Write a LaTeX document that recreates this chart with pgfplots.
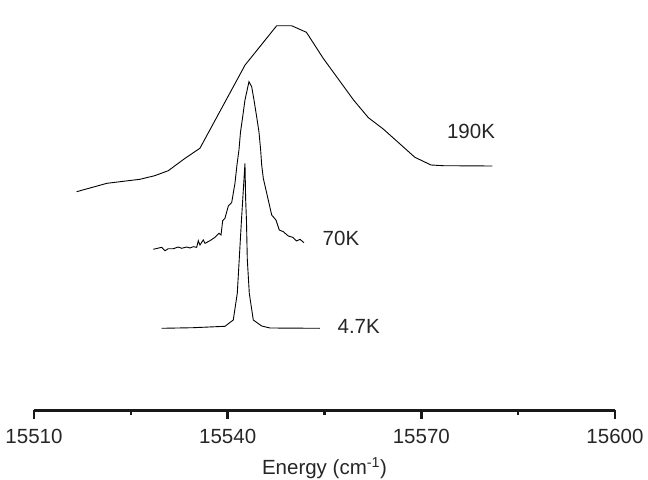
\documentclass[border=0pt]{standalone}
\usepackage{fontspec}
\setmainfont{Liberation Sans}
\usepackage{pgfplots}
\pgfplotsset{compat=1.18}

\begin{document}
\fontsize{20.5bp}{24bp}\selectfont
\begin{tikzpicture}
\begin{axis}[
    at={(0,0)}, anchor=south west,
    scale only axis,
    width=581bp, height=410bp,
    xmin=15510, xmax=15600,
    ymin=-2, ymax=408,
    axis x line=bottom,
    axis y line=none,
    axis line style={-, line width=3bp, black!90},
    xtick={15510,15540,15570,15600},
    xticklabels={15510,15540,15570,15600},
    scaled x ticks=false,
    minor xtick={15525,15555,15585},
    tick align=outside,
    major tick length=9bp,
    minor tick length=5bp,
    tick style={line width=2.6bp, black!90},
    x tick label style={font=\fontsize{20.5bp}{24bp}\selectfont, text=black!85, yshift=-3bp},
    xlabel={Energy (cm\textsuperscript{-1})},
    xlabel style={font=\fontsize{20.5bp}{24bp}\selectfont, text=black!85},
    clip=false,
]

% 190K
\addplot[black, line width=0.9bp] coordinates {
    (15516.6,216.3) (15521.3,224.7) (15526.4,228.7) (15528.7,232.3)
    (15530.8,237.3) (15533.4,249.7) (15535.7,259.7) (15542.7,343.0)
    (15547.6,382.3) (15549.9,382.3) (15552.2,375.7) (15554.8,349.7)
    (15559.5,308.0) (15561.8,290.3) (15564.1,279.0) (15569.0,250.7)
    (15571.5,243.0) (15573.4,242.3) (15581.0,242.0)
};

% 70K
\addplot[black, line width=0.9bp] coordinates {
    (15528.48,158.7) (15529.78,160.7) (15530.29,157.3) (15530.80,159.3)
    (15531.58,159.3) (15532.35,161.0) (15532.88,159.7) (15533.65,161.0)
    (15534.16,160.0) (15534.67,161.3) (15535.20,160.7) (15535.45,167.3)
    (15535.71,163.0) (15536.22,168.0) (15536.49,164.7) (15537.26,167.3)
    (15538.04,170.7) (15538.66,174.7) (15538.97,173.0) (15539.23,187.3)
    (15539.58,189.7) (15540.10,202.0) (15540.62,205.3) (15541.13,224.7)
    (15541.44,243.0) (15541.75,258.0) (15541.99,276.0) (15542.33,291.3)
    (15542.68,308.0) (15543.30,326.3) (15543.72,321.3) (15544.08,308.0)
    (15544.49,291.3) (15544.85,276.0) (15545.11,258.0) (15545.27,243.0)
    (15545.52,229.7) (15546.29,208.0) (15546.82,193.0) (15547.48,188.0)
    (15548.00,178.0) (15548.62,176.3) (15549.39,172.0) (15550.07,170.7)
    (15550.69,167.0) (15551.20,168.7) (15551.82,165.3)
};

% 4.7K
\addplot[black, line width=0.9bp] coordinates {
    (15529.78,79.7) (15534.67,80.3) (15539.58,81.7) (15540.87,88.0)
    (15541.49,114.7) (15541.83,153.0) (15542.14,188.0) (15542.33,208.0)
    (15542.68,244.7) (15542.79,208.0) (15542.91,188.0) (15543.04,149.0)
    (15543.35,114.7) (15543.97,88.0) (15545.27,82.0) (15546.55,80.0)
    (15554.30,79.7)
};

\node[text=black!85] at (axis cs:15577.7,277) {190K};
\node[text=black!85] at (axis cs:15557.55,169.5) {70K};
\node[text=black!85] at (axis cs:15560.3,81.5) {4.7K};
\end{axis}
\pgfresetboundingbox
\path[use as bounding box] (-34bp,-70bp) rectangle (614bp,410bp);
\end{tikzpicture}
\end{document}
